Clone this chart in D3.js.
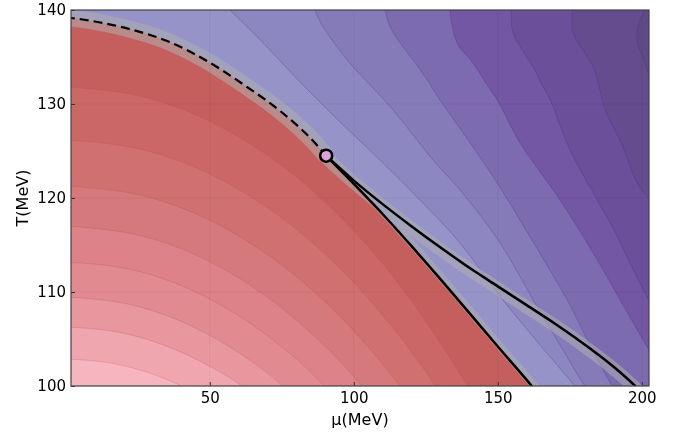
<!DOCTYPE html>
<html>
<head>
<meta charset="utf-8">
<script src="https://cdn.jsdelivr.net/npm/d3@7"></script>
<style>
  body { margin: 0; background: #fff; }
  text { font-family: "DejaVu Sans", sans-serif; fill: #000; }
</style>
</head>
<body>
<svg id="chart" width="681" height="436"></svg>
<script>
// axis ticks
const muTicks = [50, 100, 150, 200];
const tTicks = [100, 110, 120, 130, 140];

// phase boundary, [mu, T] in MeV
const criticalPoint = [90.4, 124.5];
const firstOrderLine = [[0, 139.2], [1.84, 139.15], [11.9, 138.67], [23.4, 137.87], [35.2, 136.7],
  [46.6, 135.0], [62.95, 131.81], [74.4, 129.26], [85.9, 126.06], [90.4, 124.5]];
const steepBranch = [[90.4, 124.5], [100, 121.5], [110, 118.3], [120, 114.9], [130, 111.4],
  [140, 107.8], [150, 104.2], [161.8, 100], [164, 99.2]];
const shallowBranch = [[90.4, 124.5], [100, 121.85], [110, 119.35], [120, 117.0], [130, 114.75], [140, 112.6],
  [150, 110.6], [160, 108.6], [170, 106.6], [180, 104.45], [190, 102.1], [197.7, 100], [200, 99.3]];

// hadron side contours, outer -> inner
const hadronContours = [
  [[0, 131.81], [30, 130.51], [60, 126.51], [90, 119.57], [115, 111.12], [135, 102.22], [139.5, 100], [143, 98.3]],
  [[0, 126.17], [30, 124.88], [60, 120.93], [90, 114.03], [110, 107.53], [128.3, 100], [132, 98.2]],
  [[0, 121.28], [30, 119.98], [60, 115.97], [85, 110.36], [105, 104.16], [116, 100], [120, 98.3]],
  [[0, 117.02], [30, 115.67], [55, 112.41], [80, 107.02], [102.7, 100], [107, 98.3]],
  [[0, 113.19], [25, 112.22], [50, 109.26], [70, 105.34], [89.6, 100], [94, 98.4]],
  [[0, 109.47], [25, 108.47], [45, 106.18], [60, 103.56], [75.3, 100], [80, 98.6]],
  [[0, 106.28], [20, 105.62], [35, 104.24], [50, 102.08], [61, 100], [65, 98.9]],
  [[0, 102.87], [15, 102.47], [25, 101.77], [35, 100.7], [40.2, 100], [45, 99.2]]
];
const hadronColors = ['#c55f5e', '#cb6867', '#d07071', '#d6797c', '#dc8288', '#e18b91', '#e8979e', '#f0a6ae', '#f7b6bf'];

// quark side contours, outer -> inner
const quarkContours = [
  [[53.8, 141], [57.05, 140], [68.2, 136.6], [81.35, 132.34], [95.25, 128.09], [109.1, 124.04], [123, 119.79],
    [136.9, 115.21], [151.8, 109.15], [164.7, 104.36], [176.8, 100], [178.5, 99.36]],
  [[85.5, 141.5], [86.56, 140], [89.34, 138.19], [94.55, 135.96], [99.76, 133.94], [106.7, 131.7], [113.65, 129.36],
    [120.6, 126.7], [127.5, 124.04], [136.9, 120.85], [150.8, 115.21], [162.3, 109.15], [171.6, 104.36], [180.3, 100], [182.1, 99.4]],
  [[110.2, 141], [110.9, 140], [112.6, 138.19], [116.1, 136.49], [120.6, 134.68], [125.5, 132.55], [129.9, 130.43],
    [138, 126.91], [149.8, 121.6], [161.2, 115.85], [174.1, 109.15], [182, 104.36], [189.7, 100], [191.4, 99.26]],
  [[133.2, 141], [133.4, 140], [134.1, 138.4], [136.2, 136.28], [141.4, 134.36], [145.6, 132.34], [149.8, 130.43],
    [157.7, 125.85], [164.7, 122.77], [171.6, 119.79], [183.1, 114.15], [192.5, 109.15], [199.4, 105.43], [204.6, 102.77]],
  [[155, 141], [155, 137.87], [158.4, 135.74], [162.3, 133.94], [165.4, 132.02], [168.2, 130.43], [175.1, 125.11],
    [184.5, 119.79], [190, 116.81], [194.9, 113.72], [201.8, 109.47], [206.4, 107.02]],
  [[176.1, 141], [176.1, 137.55], [179.6, 135.74], [183.1, 133.94], [185.5, 131.49], [187.3, 129.36], [193.2, 125.64],
    [198.4, 121.6], [202.9, 119.79], [208.1, 118.19]],
  [[201.8, 141], [201.1, 140], [199.4, 138.94], [198.4, 137.87], [198.7, 136.28], [200.8, 134.68], [202.5, 133.09], [206.4, 130.96]]
];
const quarkColors = ['#9593c8', '#8d87c1', '#867bb9', '#7d6bb0', '#7356a4', '#6b4f9a', '#644c8f', '#5e4a88'];

const plot = { left: 71, right: 649, top: 10, bottom: 386 };
const x = d3.scaleLinear().domain([1.8, 202.5]).range([plot.left, plot.right]);
const y = d3.scaleLinear().domain([100, 140]).range([plot.bottom, plot.top]);

const svg = d3.select('#chart');

svg.append('defs').append('clipPath').attr('id', 'plotClip')
  .append('rect')
  .attr('x', plot.left).attr('y', plot.top)
  .attr('width', plot.right - plot.left).attr('height', plot.bottom - plot.top);

const wavy = d3.line().x(d => x(d[0])).y(d => y(d[1])).curve(d3.curveCatmullRom.alpha(0.5));
const smooth = d3.line().x(d => x(d[0])).y(d => y(d[1])).curve(d3.curveMonotoneX);
const closed = (gen, points, tail) => gen(points) + tail.map(p => `L${x(p[0])},${y(p[1])}`).join('') + 'Z';

const g = svg.append('g').attr('clip-path', 'url(#plotClip)');

// quark side
g.append('rect')
  .attr('x', plot.left).attr('y', plot.top)
  .attr('width', plot.right - plot.left).attr('height', plot.bottom - plot.top)
  .attr('fill', quarkColors[0]);

g.selectAll('.quark-band')
  .data(quarkContours)
  .enter()
  .append('path')
  .attr('d', pts => closed(wavy, pts, [[250, 90], [250, 150], [pts[0][0], 150]]))
  .attr('fill', (d, i) => quarkColors[i + 1]);

g.selectAll('.quark-line')
  .data(quarkContours)
  .enter()
  .append('path')
  .attr('d', wavy)
  .attr('fill', 'none')
  .attr('stroke', '#48288a')
  .attr('stroke-opacity', 0.3)
  .attr('stroke-width', 1);

// hadron side
const hadronEdge = firstOrderLine.concat(steepBranch.slice(1));
g.append('path')
  .attr('d', closed(smooth, hadronEdge, [[165, 95], [-5, 95], [-5, 139.2]]))
  .attr('fill', hadronColors[0]);

g.selectAll('.hadron-band')
  .data(hadronContours)
  .enter()
  .append('path')
  .attr('d', pts => closed(smooth, pts, [[pts[pts.length - 1][0], 95], [-5, 95], [-5, pts[0][1]]]))
  .attr('fill', (d, i) => hadronColors[i + 1]);

g.selectAll('.hadron-line')
  .data(hadronContours)
  .enter()
  .append('path')
  .attr('d', smooth)
  .attr('fill', 'none')
  .attr('stroke', '#b8414e')
  .attr('stroke-opacity', 0.22)
  .attr('stroke-width', 1);

// grid
const grid = svg.append('g').attr('stroke', '#000').attr('stroke-opacity', 0.05).attr('stroke-width', 1);
grid.selectAll('.gx').data(muTicks).enter().append('line')
  .attr('x1', d => x(d)).attr('x2', d => x(d)).attr('y1', plot.top).attr('y2', plot.bottom);
grid.selectAll('.gy').data(tTicks).enter().append('line')
  .attr('x1', plot.left).attr('x2', plot.right).attr('y1', d => y(d)).attr('y2', d => y(d));

// uncertainty bands
const bands = g.append('g').attr('opacity', 0.55).attr('fill', 'none').attr('stroke', '#b0b0b0')
  .attr('stroke-linejoin', 'round');
bands.append('path').attr('d', smooth(firstOrderLine)).attr('stroke-width', 17);
bands.append('path').attr('d', smooth(steepBranch)).attr('stroke-width', 8)
  .attr('transform', 'translate(2.5,0)');
bands.append('path').attr('d', smooth(shallowBranch)).attr('stroke-width', 13)
  .attr('transform', 'translate(0,2)');

// lines
g.append('path').attr('d', smooth(firstOrderLine))
  .attr('fill', 'none').attr('stroke', '#000').attr('stroke-width', 2.2)
  .attr('stroke-dasharray', '9,5');
g.append('path').attr('d', smooth(steepBranch))
  .attr('fill', 'none').attr('stroke', '#000').attr('stroke-width', 2.5);
g.append('path').attr('d', smooth(shallowBranch))
  .attr('fill', 'none').attr('stroke', '#000').attr('stroke-width', 2.5);

svg.append('circle')
  .attr('cx', x(criticalPoint[0])).attr('cy', y(criticalPoint[1]))
  .attr('r', 6)
  .attr('fill', '#dca3da')
  .attr('stroke', '#000')
  .attr('stroke-width', 2.5);

// axes
const xAxis = d3.axisBottom(x).tickValues(muTicks).tickSize(-4).tickPadding(6);
const yAxis = d3.axisLeft(y).tickValues(tTicks).tickSize(-4).tickPadding(5);

const gx = svg.append('g').attr('transform', `translate(0,${plot.bottom})`).call(xAxis);
const gy = svg.append('g').attr('transform', `translate(${plot.left},0)`).call(yAxis);
[gx, gy].forEach(a => {
  a.select('.domain').remove();
  a.selectAll('line').attr('stroke', '#333');
  a.selectAll('text').attr('font-size', 15).attr('font-family', '"DejaVu Sans", sans-serif').attr('fill', '#000');
});

svg.append('rect')
  .attr('x', plot.left).attr('y', plot.top)
  .attr('width', plot.right - plot.left).attr('height', plot.bottom - plot.top)
  .attr('fill', 'none')
  .attr('stroke', '#444')
  .attr('stroke-width', 1.2);

svg.append('text')
  .attr('x', (plot.left + plot.right) / 2)
  .attr('y', 425)
  .attr('text-anchor', 'middle')
  .attr('font-size', 16)
  .text('μ(MeV)');

svg.append('text')
  .attr('transform', `translate(28,${(plot.top + plot.bottom) / 2}) rotate(-90)`)
  .attr('text-anchor', 'middle')
  .attr('font-size', 16)
  .text('T(MeV)');
</script>
</body>
</html>
